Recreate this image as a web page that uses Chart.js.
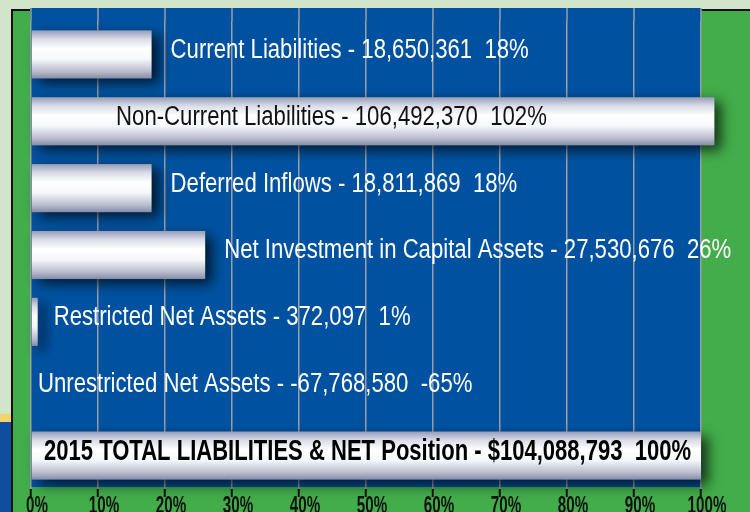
<!DOCTYPE html>
<html>
<head>
<meta charset="utf-8">
<script src="https://cdn.jsdelivr.net/npm/chart.js@4.4.1/dist/chart.umd.min.js"></script>
<style>
  html, body { margin: 0; padding: 0; background: #d2e5ca; }
  #wrap { position: relative; width: 750px; height: 512px; overflow: hidden; }
  #field { position: absolute; left: 11px; top: 9px; right: 0; bottom: 0; background: #42ad4a;
           border-top: 2px solid #111; border-left: 2px solid #111; }
  #corner { position: absolute; left: 0; top: 414px; width: 11px; height: 98px; background: #0d4f9e;
            border-top: 8px solid #f3d46a; }
  canvas { position: absolute; left: 0; top: 0; }
</style>
</head>
<body>
<div id="wrap">
  <div id="corner"></div>
  <div id="field"></div>
  <canvas id="chart" width="750" height="512"></canvas>
</div>
<script>
"use strict";

// ── data ──────────────────────────────────────────────────────────────────────
const categories = [
  "Current Liabilities",
  "Non-Current Liabilities",
  "Deferred Inflows",
  "Net Investment in Capital Assets",
  "Restricted Net Assets",
  "Unrestricted Net Assets",
  "2015 TOTAL LIABILITIES & NET Position",
];
const amounts  = ["18,650,361", "106,492,370", "18,811,869", "27,530,676", "372,097", "-67,768,580", "$104,088,793"];
const percents = [18, 102, 18, 26, 1, -65, 100];
const xTicks   = [0, 10, 20, 30, 40, 50, 60, 70, 80, 90, 100];

const BLUE = "#0052a0";
const FONT = "'Liberation Sans', Arial, sans-serif";

// squeeze a run of text horizontally (the original uses a condensed face)
function narrowText(ctx, text, x, y, font, color, sx, align) {
  ctx.save();
  ctx.font = font;
  ctx.fillStyle = color;
  ctx.textAlign = align || "left";
  ctx.textBaseline = "middle";
  ctx.translate(x, y);
  ctx.scale(sx, 1);
  ctx.fillText(text, 0, 0);
  ctx.restore();
}

// ── plugins ───────────────────────────────────────────────────────────────────
// blue plot panel + grid stubs above the category band, tick labels below
const panel = {
  id: "panel",
  beforeDraw(chart) {
    const { ctx, chartArea: a, scales: { x } } = chart;
    ctx.save();
    ctx.fillStyle = BLUE;
    ctx.fillRect(a.left - 1, 8, a.right - a.left + 1, a.bottom - 10);
    ctx.strokeStyle = "#9a9ea8";
    ctx.lineWidth = 1.5;
    xTicks.forEach(t => {
      const px = x.getPixelForValue(t);
      ctx.beginPath();
      ctx.moveTo(px, 8);
      ctx.lineTo(px, a.top);
      ctx.stroke();
    });
    ctx.restore();
  },
  afterDraw(chart) {
    const { ctx, chartArea: a, scales: { x } } = chart;
    xTicks.forEach(t => {
      narrowText(ctx, t + "%", x.getPixelForValue(t) + 6, a.bottom + 18,
                 `bold 23px ${FONT}`, "#111", 0.66, "center");
    });
  },
};

// cylinder-look bars with drop shadow, then the text labels
const barLook = {
  id: "barLook",
  afterDatasetsDraw(chart) {
    const { ctx, chartArea: a, scales: { x } } = chart;
    const meta = chart.getDatasetMeta(0);
    const last = categories.length - 1;

    meta.data.forEach(bar => {
      const p = bar.getProps(["x", "y", "base", "height"], true);
      const x0 = Math.max(a.left, Math.min(p.x, p.base));
      const x1 = Math.max(p.x, p.base);
      if (x1 - x0 < 1) return;
      const top = p.y - p.height / 2;
      const g = ctx.createLinearGradient(0, top, 0, top + p.height);
      g.addColorStop(0, "#959cb6");
      g.addColorStop(0.18, "#d9dce7");
      g.addColorStop(0.38, "#ffffff");
      g.addColorStop(0.6, "#f6f7fa");
      g.addColorStop(0.85, "#b9bdce");
      g.addColorStop(1, "#858ca6");
      ctx.save();
      ctx.shadowColor = "rgba(0,0,0,0.7)";
      ctx.shadowBlur = 12;
      ctx.shadowOffsetX = 7;
      ctx.shadowOffsetY = 5;
      ctx.fillStyle = g;
      ctx.fillRect(x0, top, x1 - x0, p.height);
      ctx.restore();
    });

    meta.data.forEach((bar, i) => {
      const v = percents[i];
      const text = `${categories[i]} - ${amounts[i]}  ${v}%`;
      if (i === last) {
        narrowText(ctx, text, a.left + 13, bar.y - 4, `bold 29px ${FONT}`, "#000", 0.76);
      } else if (v > x.max) {
        narrowText(ctx, text, x.getPixelForValue(12.7), bar.y - 4, `27px ${FONT}`, "#111", 0.82);
      } else {
        const tx = x.getPixelForValue(Math.max(v, 0)) + (v > 2 ? 19 : v > 0 ? 16 : 7);
        narrowText(ctx, text, tx, bar.y - 4, `27px ${FONT}`, "#fff", 0.82);
      }
    });
  },
};

// ── chart ─────────────────────────────────────────────────────────────────────
new Chart(document.getElementById("chart"), {
  type: "bar",
  data: {
    labels: categories,
    datasets: [{
      data: percents,
      backgroundColor: "rgba(0,0,0,0)",
      borderWidth: 0,
      barPercentage: 0.72,
      categoryPercentage: 1,
    }],
  },
  options: {
    indexAxis: "y",
    responsive: false,
    animation: false,
    layout: { padding: { left: 31, right: 49, top: 21, bottom: 0 } },
    plugins: { legend: { display: false }, tooltip: { enabled: false } },
    scales: {
      y: { display: false },
      x: {
        min: 0, max: 100,
        z: 1,
        afterBuildTicks(scale) { scale.ticks = xTicks.map(v => ({ value: v })); },
        afterFit(scale) { scale.height = 23; },
        border: { display: false },
        grid: { color: "#9a9ea8", lineWidth: 1.5, tickColor: "#111", tickWidth: 2, tickLength: 8 },
        ticks: { display: false },
      },
    },
  },
  plugins: [panel, barLook],
});
</script>
</body>
</html>
